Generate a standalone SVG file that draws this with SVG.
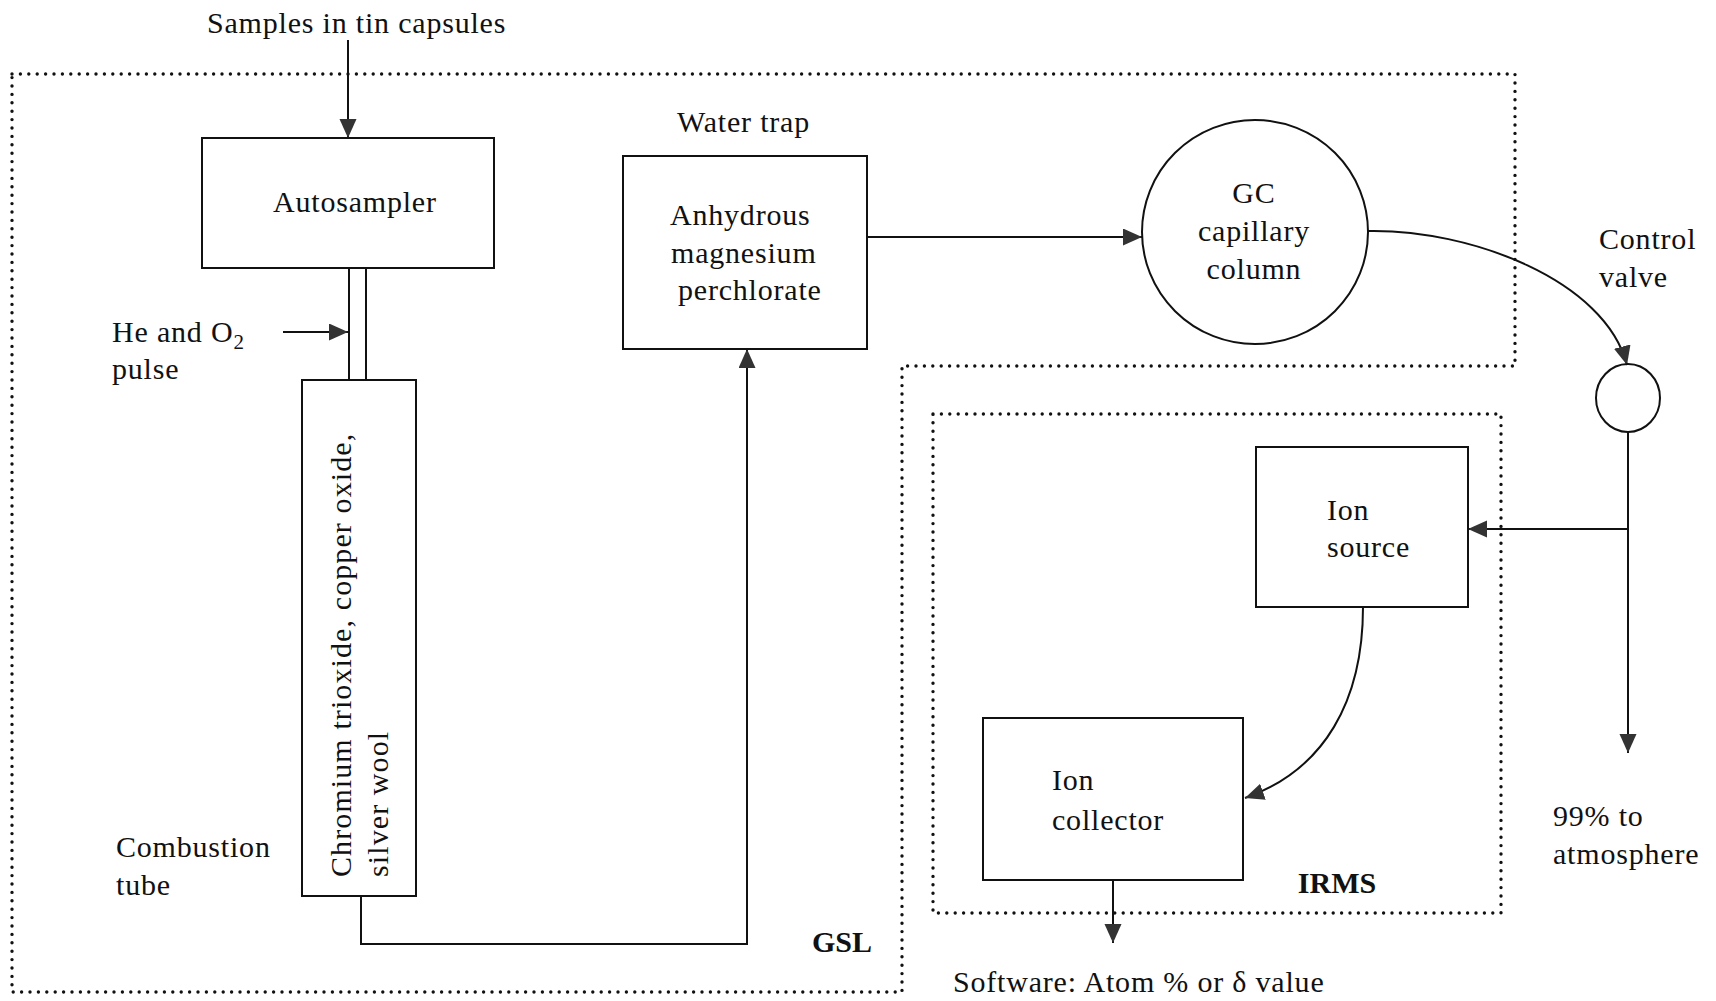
<svg xmlns="http://www.w3.org/2000/svg" width="1716" height="1001" viewBox="0 0 1716 1001">
<style>
  text { font-family: "Liberation Serif", "Times New Roman", serif; font-size: 30px; fill: #111; letter-spacing: 0.8px; }
  .bold { font-weight: bold; letter-spacing: 0px; }
  .mid { text-anchor: middle; }
  .vert { letter-spacing: 1.1px; }
  .box { fill: none; stroke: #111; stroke-width: 2; }
  .line { fill: none; stroke: #111; stroke-width: 2; }
  .dots { fill: none; stroke: #111; stroke-width: 3.4; stroke-dasharray: 0 8.4; stroke-linecap: round; }
</style>
<defs>
  <marker id="arr" markerUnits="userSpaceOnUse" markerWidth="21" markerHeight="19" refX="19" refY="8.5" orient="auto">
    <path d="M0,0 L19,8.5 L0,17 Z" fill="#333"/>
  </marker>
</defs>
<rect width="1716" height="1001" fill="#fff"/>

<g id="boundaries">
  <path id="gsl-boundary" class="dots" d="M12,74 H1515 V366 H902 V992 H12 Z"/>
  <rect id="irms-boundary" class="dots" x="933" y="414" width="568" height="499"/>
  <text class="bold mid" x="842" y="952">GSL</text>
  <text class="bold mid" x="1337" y="893">IRMS</text>
</g>

<g id="connectors">
  <path class="line" d="M348,40 V138" marker-end="url(#arr)"/>
  <path class="line" d="M283,332 H348" marker-end="url(#arr)"/>
  <path class="line" d="M349,268 V380 M366,268 V380"/>
  <path class="line" d="M361,896 V944 H747 V349" marker-end="url(#arr)"/>
  <path class="line" d="M867,237 H1142" marker-end="url(#arr)"/>
  <path class="line" d="M1368,231 C1470,229 1605,280 1627,365" marker-end="url(#arr)"/>
  <path class="line" d="M1628,432 V753" marker-end="url(#arr)"/>
  <path class="line" d="M1628,529 H1468" marker-end="url(#arr)"/>
  <path class="line" d="M1363,607 C1363,700 1325,770 1245,798" marker-end="url(#arr)"/>
  <path class="line" d="M1113,880 V943" marker-end="url(#arr)"/>
</g>

<g id="samples-label">
  <text x="207" y="33">Samples in tin capsules</text>
</g>

<g id="autosampler">
  <rect class="box" x="202" y="138" width="292" height="130"/>
  <text x="273" y="212">Autosampler</text>
</g>

<g id="he-o2-label">
  <text x="112" y="342">He and O<tspan font-size="21" dy="7">2</tspan></text>
  <text x="112" y="379">pulse</text>
</g>

<g id="combustion-tube">
  <rect class="box" x="302" y="380" width="114" height="516"/>
  <text class="vert" transform="translate(351,877) rotate(-90)">Chromium trioxide, copper oxide,</text>
  <text class="vert" transform="translate(388,877) rotate(-90)">silver wool</text>
</g>

<g id="combustion-label">
  <text x="116" y="857">Combustion</text>
  <text x="116" y="895">tube</text>
</g>

<g id="water-trap">
  <text x="677" y="132">Water trap</text>
  <rect class="box" x="623" y="156" width="244" height="193"/>
  <text x="670" y="225">Anhydrous</text>
  <text x="671" y="263">magnesium</text>
  <text x="678" y="300">perchlorate</text>
</g>

<g id="gc-column">
  <ellipse class="box" cx="1255" cy="232" rx="113" ry="112"/>
  <text class="mid" x="1254" y="203">GC</text>
  <text class="mid" x="1254" y="241">capillary</text>
  <text class="mid" x="1254" y="279">column</text>
</g>

<g id="control-valve">
  <ellipse class="box" cx="1628" cy="398" rx="32" ry="34"/>
  <text x="1599" y="249">Control</text>
  <text x="1599" y="287">valve</text>
</g>

<g id="atmosphere-label">
  <text x="1553" y="826">99% to</text>
  <text x="1553" y="864">atmosphere</text>
</g>

<g id="ion-source">
  <rect class="box" x="1256" y="447" width="212" height="160"/>
  <text x="1327" y="520">Ion</text>
  <text x="1327" y="557">source</text>
</g>

<g id="ion-collector">
  <rect class="box" x="983" y="718" width="260" height="162"/>
  <text x="1052" y="790">Ion</text>
  <text x="1052" y="830">collector</text>
</g>

<g id="software-label">
  <text x="953" y="992">Software: Atom % or δ value</text>
</g>
</svg>
